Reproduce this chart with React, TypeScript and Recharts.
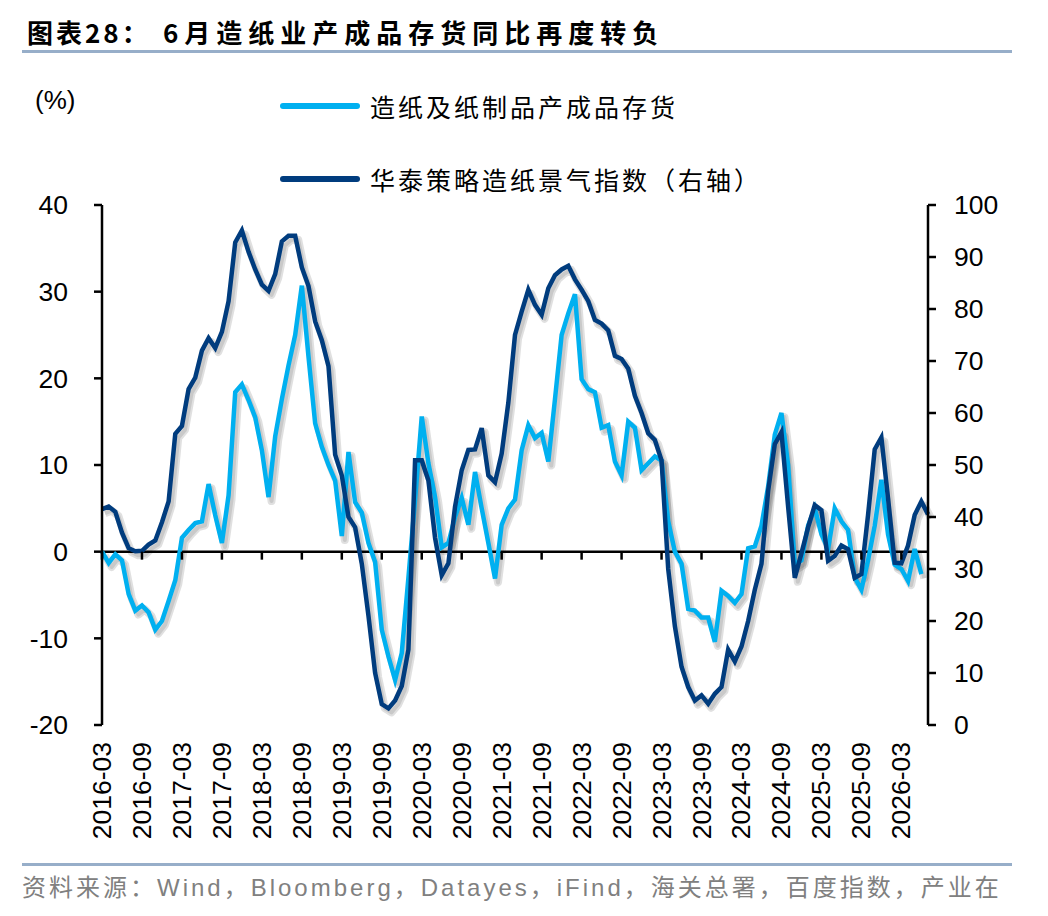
import React from "react";
import { LineChart, Line, XAxis, YAxis, ReferenceLine } from "recharts";

// month categories, 2016-03 .. 2026-07
const START_YEAR = 2016;
const START_MONTH = 3;
const MONTH_COUNT = 125;
const months: string[] = [];
for (let i = 0; i < MONTH_COUNT; i++) {
  const m = START_MONTH - 1 + i;
  months.push(`${START_YEAR + Math.floor(m / 12)}-${String((m % 12) + 1).padStart(2, "0")}`);
}

const seriesNames = ["造纸及纸制品产成品存货", "华泰策略造纸景气指数（右轴）"];
const seriesColors = ["#00B0F0", "#003C7E"];

// 造纸及纸制品产成品存货 同比 (%), left axis
const inventoryYoY = [
  0, -1.3, -0.3, -1, -4.9, -6.8, -6.2, -7, -9, -8, -5.7, -3.3,
  1.6, 2.5, 3.3, 3.5, 7.8, 4.2, 1, 6.5, 18.4, 19.3, 17.5, 15.5,
  11.7, 6.3, 13.3, 17.6, 21.5, 25, 30.7, 22.5, 14.8, 12.1, 10, 8.2,
  1.8, 11.5, 5.7, 4.5, 1, -1.2, -9, -12.1, -14.8, -11.7, -3, 6,
  15.6, 10.2, 6.3, 0.5, 1, 4, 6.2, 3.1, 9.2, 5, 1, -3.1,
  3.1, 5, 6, 11.7, 14.6, 13.1, 13.7, 10.4, 17.6, 25, 27.5, 29.7,
  19.9, 18.75, 18.4, 14.3, 14.6, 10.4, 8.8, 15, 14.3, 9.4, 10.2, 11,
  10.5, 3.5, 0, -1.4, -6.6, -6.8, -7.6, -7.6, -10.4, -4.5, -5.1, -5.9,
  -4.9, 0.4, 0.6, 3, 7.5, 13.5, 16, 10, -1.5, -1, 3, 5,
  2, 0.3, 5, 3.5, 2.5, -3, -4.4, -1, 3, 8.3, 2, -1.5,
  -2, -3.4, 0.3, -2.6, null,
];

// 华泰策略造纸景气指数, right axis
const prosperityIndex = [
  41.5, 42, 41, 37, 34, 33.4, 33.5, 34.7, 35.5, 39, 43, 56,
  57.5, 64.6, 66.8, 72, 74.4, 72.5, 75.6, 81.5, 92.8, 95.1, 91, 87.6,
  84.7, 83.5, 86.7, 93, 94.1, 94.1, 88, 84.4, 77.6, 74, 69, 52,
  48, 40, 38, 31, 21, 10, 4, 3.2, 4.7, 7.5, 14.5, 50.9,
  50.9, 47, 36, 28.8, 31.1, 42, 49, 52.9, 53, 57.1, 48, 46.7,
  52.2, 62, 75, 79.5, 83.7, 80.8, 78.9, 84, 86.5, 87.6, 88.3, 85.7,
  83.7, 81.5, 77.9, 77.2, 75.9, 71, 70.4, 68.5, 63.3, 60, 56.1, 54.8,
  50.9, 30, 19, 11.2, 7.3, 4.7, 5.7, 4.1, 6, 7.3, 14.5, 12.2,
  15.1, 20, 26, 31, 45, 54, 56.3, 42, 28.3, 33, 38, 42.3,
  41.3, 31.6, 32.5, 34.5, 33.8, 28.3, 29, 40.4, 53, 55.3, 43.6, 31.2,
  31.1, 34.5, 40.4, 43, 40.5,
];

const leftTicks = [-20, -10, 0, 10, 20, 30, 40];
const rightTicks = [0, 10, 20, 30, 40, 50, 60, 70, 80, 90, 100];

const data = months.map((month, i) => ({
  month,
  inventory: inventoryYoY[i],
  index: prosperityIndex[i],
}));

const W = 1048;
const H = 916;
const PLOT_TOP = 205;
const PLOT_BOTTOM = 725;
const ZERO_Y = PLOT_TOP + ((PLOT_BOTTOM - PLOT_TOP) * 40) / 60;
const LABEL_TOP = 742;
const X_AXIS_H = 150;
const MARGIN = { top: PLOT_TOP, right: 60, bottom: H - PLOT_BOTTOM - X_AXIS_H, left: 42 };

const ARIAL = "'Liberation Sans', Arial, sans-serif";
const CJK = "'Noto Sans CJK SC', 'Noto Sans', sans-serif";

const XTick = (props: any) => {
  const { x, payload } = props;
  return (
    <g>
      <line x1={x} x2={x} y1={ZERO_Y} y2={ZERO_Y + 8} stroke="#000" strokeWidth={2.5} />
      <text
        x={x}
        y={LABEL_TOP}
        transform={`rotate(-90, ${x}, ${LABEL_TOP})`}
        textAnchor="end"
        dominantBaseline="central"
        fontSize={26.5}
        fontFamily={ARIAL}
        fill="#000"
      >
        {payload.value}
      </text>
    </g>
  );
};

// same layout as the main chart, only the two lines in soft grey, shifted down-right
function ShadowLayer() {
  return (
    <div style={{ position: "absolute", left: 3, top: 4 }}>
      <LineChart width={W} height={H} data={data} margin={MARGIN}>
        <XAxis dataKey="month" interval={5} axisLine={false} tickLine={false} tick={false} height={X_AXIS_H} />
        <YAxis yAxisId="left" width={60} domain={[-20, 40]} ticks={leftTicks} axisLine={false} tickLine={false} tick={false} />
        <YAxis yAxisId="right" orientation="right" width={60} domain={[0, 100]} ticks={rightTicks} axisLine={false} tickLine={false} tick={false} />
        <Line yAxisId="left" dataKey="inventory" stroke="#000" strokeOpacity={0.12} strokeWidth={8} strokeLinejoin="round" dot={false} type="linear" isAnimationActive={false} />
        <Line yAxisId="right" dataKey="index" stroke="#000" strokeOpacity={0.12} strokeWidth={8} strokeLinejoin="round" dot={false} type="linear" isAnimationActive={false} />
        <Line yAxisId="left" dataKey="inventory" stroke="#000" strokeOpacity={0.1} strokeWidth={4} strokeLinejoin="round" dot={false} type="linear" isAnimationActive={false} />
        <Line yAxisId="right" dataKey="index" stroke="#000" strokeOpacity={0.1} strokeWidth={4} strokeLinejoin="round" dot={false} type="linear" isAnimationActive={false} />
      </LineChart>
    </div>
  );
}

export default function App() {
  return (
    <div style={{ position: "absolute", left: 0, top: 0, width: W, height: H, background: "#fff", overflow: "hidden" }}>
      <div style={{ position: "absolute", left: 27, top: 12, fontFamily: CJK, fontWeight: 700, fontSize: 26, lineHeight: "40px", letterSpacing: 3, color: "#000", whiteSpace: "nowrap" }}>
        图表28：
      </div>
      <div style={{ position: "absolute", left: 163, top: 12, fontFamily: CJK, fontWeight: 700, fontSize: 26, lineHeight: "40px", letterSpacing: 6, color: "#000", whiteSpace: "nowrap" }}>
        6月造纸业产成品存货同比再度转负
      </div>
      <div style={{ position: "absolute", left: 22, top: 50, width: 990, height: 3, background: "#97AEC9" }} />

      <div style={{ position: "absolute", left: 35, top: 84, fontFamily: ARIAL, fontSize: 26, lineHeight: "32px", color: "#000" }}>(%)</div>

      {seriesNames.map((name, k) => (
        <div key={name} style={{ position: "absolute", left: 280, top: 88 + k * 73, height: 36, display: "flex", alignItems: "center", whiteSpace: "nowrap" }}>
          <div style={{ width: 80, height: 6, borderRadius: 3, background: seriesColors[k] }} />
          <span style={{ marginLeft: 10, fontFamily: CJK, fontSize: 25, letterSpacing: 3, color: "#000" }}>{name}</span>
        </div>
      ))}

      <ShadowLayer />

      <div style={{ position: "absolute", left: 0, top: 0 }}>
        <LineChart width={W} height={H} data={data} margin={MARGIN}>
          <XAxis
            dataKey="month"
            interval={5}
            axisLine={false}
            tickLine={false}
            height={X_AXIS_H}
            tick={<XTick />}
          />
          <YAxis
            yAxisId="left"
            orientation="left"
            width={60}
            domain={[-20, 40]}
            ticks={leftTicks}
            interval={0}
            axisLine={{ stroke: "#000", strokeWidth: 2.5 }}
            tickLine={{ stroke: "#000", strokeWidth: 2.5 }}
            tickSize={8}
            tickMargin={26}
            tick={{ fontSize: 26.5, fill: "#000", fontFamily: ARIAL }}
          />
          <YAxis
            yAxisId="right"
            orientation="right"
            width={60}
            domain={[0, 100]}
            ticks={rightTicks}
            interval={0}
            axisLine={{ stroke: "#000", strokeWidth: 2.5 }}
            tickLine={{ stroke: "#000", strokeWidth: 2.5 }}
            tickSize={8}
            tickMargin={18}
            tick={{ fontSize: 26.5, fill: "#000", fontFamily: ARIAL, textAnchor: "start" }}
          />
          <ReferenceLine yAxisId="left" y={0} stroke="#000" strokeWidth={2.5} />
          <Line
            yAxisId="left"
            dataKey="inventory"
            name={seriesNames[0]}
            stroke={seriesColors[0]}
            strokeWidth={4.5}
            dot={false}
            type="linear"
            isAnimationActive={false}
          />
          <Line
            yAxisId="right"
            dataKey="index"
            name={seriesNames[1]}
            stroke={seriesColors[1]}
            strokeWidth={4.5}
            dot={false}
            type="linear"
            isAnimationActive={false}
          />
        </LineChart>
      </div>

      <div style={{ position: "absolute", left: 22, top: 863, width: 990, height: 3, background: "#97AEC9" }} />
      <div style={{ position: "absolute", left: 22, top: 871, fontFamily: `'Liberation Sans', Arial, ${CJK}`, fontSize: 24, letterSpacing: 3, lineHeight: "34px", color: "#808080", whiteSpace: "nowrap" }}>
        资料来源：Wind，Bloomberg，Datayes，iFind，海关总署，百度指数，产业在
      </div>
    </div>
  );
}
